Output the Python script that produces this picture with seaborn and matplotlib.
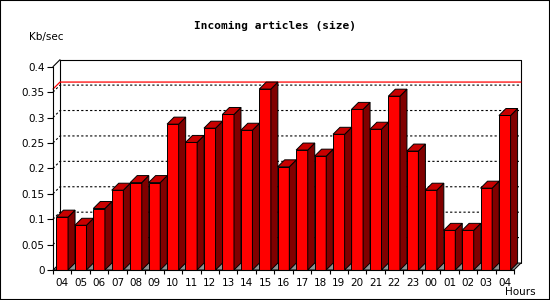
import numpy as np
import pandas as pd
import matplotlib
matplotlib.use("Agg")
import matplotlib.pyplot as plt
from matplotlib.patches import Polygon, Rectangle
import seaborn as sns

# hours on the x axis (last 24h + current)
hours = ["04", "05", "06", "07", "08", "09", "10", "11", "12", "13", "14", "15", "16",
         "17", "18", "19", "20", "21", "22", "23", "00", "01", "02", "03", "04"]
# incoming articles, Kb/sec
kb = [0.104, 0.088, 0.121, 0.157, 0.172, 0.172, 0.287, 0.251, 0.279, 0.306, 0.275, 0.356, 0.203,
      0.236, 0.224, 0.267, 0.316, 0.277, 0.342, 0.234, 0.157, 0.078, 0.078, 0.161, 0.304]
yticks = [0, 0.05, 0.1, 0.15, 0.2, 0.25, 0.3, 0.35, 0.4]

df = pd.DataFrame({"slot": range(len(kb)), "kb": kb})

sns.set_style("white")
plt.rcParams["font.family"] = ["DejaVu Sans"]
for k in ["text.color", "axes.labelcolor", "xtick.color", "ytick.color", "axes.edgecolor"]:
    plt.rcParams[k] = "black"

fig = plt.figure(figsize=(5.5, 3), dpi=100)
ax = fig.add_axes([53 / 550, 30 / 300, 461 / 550, 203.3 / 300])

sns.barplot(data=df, x="slot", y="kb", color="#ff0000", saturation=1, width=0.63,
            edgecolor="black", linewidth=0.7, ax=ax, zorder=3)
bars = list(ax.patches)

xmin, xmax = -0.5, len(kb) - 0.5
ax.set_xlim(xmin, xmax)
ax.set_ylim(0, 0.4)

# depth of the fake 3d in pixels -> data units
depth = 7
p0 = ax.transData.transform((0, 0))
p1 = ax.transData.transform((1, 1))
dx = depth / (p1[0] - p0[0])
dy = depth / (p1[1] - p0[1])

# floor
ax.add_patch(Polygon([(xmin, 0), (xmax, 0), (xmax + dx, dy), (xmin + dx, dy)], closed=True,
                     facecolor="#909090", edgecolor="black", lw=0.7, clip_on=False, zorder=1))

# back wall outline
ax.plot([xmin + dx, xmin + dx, xmax + dx, xmax + dx], [dy, 0.4 + dy, 0.4 + dy, dy],
        color="black", lw=0.8, clip_on=False, zorder=1)
ax.plot([xmin, xmin + dx], [0.4, 0.4 + dy], color="black", lw=0.8, clip_on=False, zorder=1)

# dotted grid on back wall + left wall
for v in yticks[1:-1]:
    ax.plot([xmin, xmin + dx, xmax + dx], [v, v + dy, v + dy], color="black", lw=0.8,
            linestyle=(0, (2, 2)), clip_on=False, zorder=1)

# max line
vmax = max(kb)
ax.plot([xmin, xmin + dx, xmax + dx], [vmax, vmax + dy, vmax + dy], color="#ff0000", lw=0.9,
        clip_on=False, zorder=2)

# sides and tops of bars
for b in bars:
    x0 = b.get_x()
    x1 = x0 + b.get_width()
    h = b.get_height()
    ax.add_patch(Polygon([(x1, 0), (x1 + dx, dy), (x1 + dx, h + dy), (x1, h)], closed=True,
                         facecolor="#800000", edgecolor="black", lw=0.7, clip_on=False, zorder=3))
    ax.add_patch(Polygon([(x0, h), (x1, h), (x1 + dx, h + dy), (x0 + dx, h + dy)], closed=True,
                         facecolor="#c80000", edgecolor="black", lw=0.7, clip_on=False, zorder=3))

# axes styling
for s in ["top", "right"]:
    ax.spines[s].set_visible(False)
for s in ["left", "bottom"]:
    ax.spines[s].set_linewidth(0.8)
    ax.spines[s].set_zorder(4)
ax.set_yticks(yticks)
ax.set_yticklabels([f"{v:g}" for v in yticks])
ax.set_xticks(range(len(hours)))
ax.set_xticklabels(hours)
ax.set_xticks(np.arange(xmin, xmax + 0.1, 1), minor=True)
ax.tick_params(axis="x", which="major", length=0, pad=6, labelsize=7.5)
ax.tick_params(axis="x", which="minor", length=3, width=0.8, direction="out", bottom=True)
ax.tick_params(axis="y", length=4, width=0.8, direction="out", left=True, pad=2, labelsize=7.5)
ax.set_xlabel("")
ax.set_ylabel("")

fig.text(0.5, 1 - 26 / 300, "Incoming articles (size)", ha="center", va="center",
         family="DejaVu Sans Mono", fontweight="bold", fontsize=8)
fig.text(29 / 550, 1 - 37 / 300, "Kb/sec", ha="left", va="center", fontsize=7.5)
fig.text(505 / 550, 1 - 292 / 300, "Hours", ha="left", va="center", fontsize=7.5)

# image border
fig.patches.append(Rectangle((0, 0), 1, 1, transform=fig.transFigure, fill=False,
                             edgecolor="black", lw=1.5))

fig.savefig("out.png", dpi=100)
